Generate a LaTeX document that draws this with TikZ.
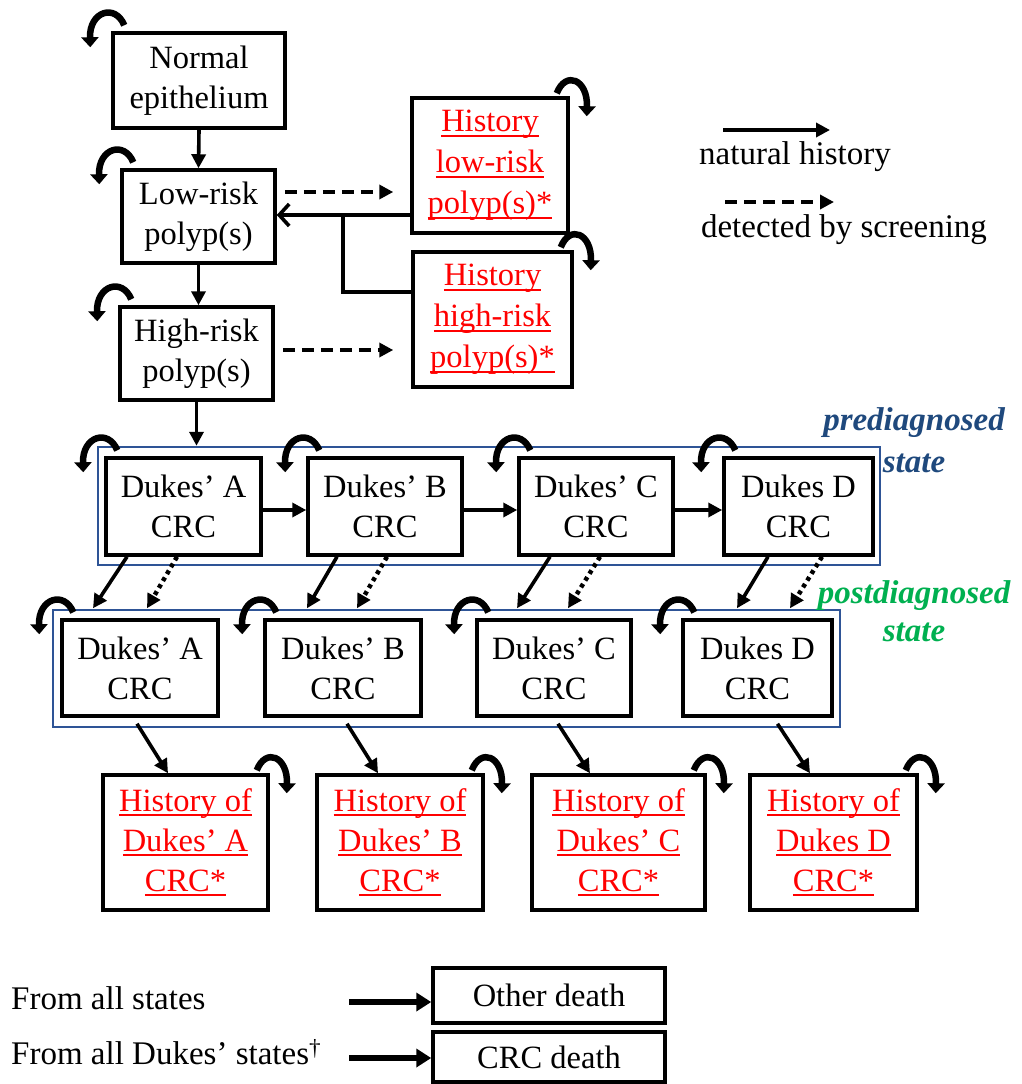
\documentclass[tikz,border=0pt]{standalone}
\usepackage{fontspec}
\setmainfont{Liberation Serif}
\usetikzlibrary{arrows.meta,calc}
\definecolor{frameblue}{RGB}{46,84,150}
\definecolor{preblue}{RGB}{31,73,125}
\definecolor{postgreen}{RGB}{0,176,80}
\newcommand\uln[1]{\setbox0\hbox{#1}\rlap{\rule[-5pt]{\wd0}{2pt}}\box0}
\newcommand\loopL[1]{\draw[loopar] ($(#1.north west)+(13,6)$) .. controls ($(#1.north west)+(4,28)$) and ($(#1.north west)+(-22,20)$) .. ($(#1.north west)+(-21,-16)$);}
\newcommand\loopR[1]{\draw[loopar] ($(#1.north east)+(-13,3)$) .. controls ($(#1.north east)+(-4,26)$) and ($(#1.north east)+(18,17)$) .. ($(#1.north east)+(17,-20)$);}
\tikzset{
 stbox/.style={draw, line width=3.5pt, inner sep=0pt, align=center, fill=white, font=\fontsize{32.5}{40}\selectfont},
 redbox/.style={stbox, text=red},
 frame/.style={draw=frameblue, line width=2.5pt, inner sep=0pt},
 arr/.style={line width=3.6pt, -{Triangle[length=14pt,width=14pt]}},
 dsh/.style={arr, dash pattern=on 12pt off 7pt},
 dotarr/.style={line width=4.5pt, dash pattern=on 4pt off 4pt, -{Triangle[length=14pt,width=14pt]}},
 loopar/.style={line width=6.5pt, -{Triangle[length=10pt,width=17pt]}},
 barb/.style={line width=3.6pt, -{Straight Barb[length=10pt,width=22pt]}},
 thickarr/.style={line width=5.5pt, -{Triangle[length=15pt,width=18pt]}},
 lbl/.style={font=\fontsize{33}{40}\selectfont, inner sep=0pt}
}
\begin{document}
\begin{tikzpicture}[x=1pt,y=1pt]
\useasboundingbox (0,0) rectangle (1021,-1084);
% frames
\node[frame, minimum width=782, minimum height=118] (pre) at (489,-506) {};
\node[frame, minimum width=787, minimum height=117] (post) at (446.5,-668.5) {};
% top boxes
\node[stbox, minimum width=172, minimum height=95] (normal) at (199,-80.5) {Normal\\epithelium};
\node[stbox, minimum width=153, minimum height=93] (low) at (198.5,-216.5) {Low-risk\\polyp(s)};
\node[stbox, minimum width=153, minimum height=93] (high) at (196.5,-353.5) {High-risk\\polyp(s)};
\node[redbox, minimum width=156, minimum height=135, font=\fontsize{32.5}{41}\selectfont] (histlow) at (490,-165.5) {\uln{History}\\\uln{low-risk}\\\uln{polyp(s)*}};
\node[redbox, minimum width=159, minimum height=135, font=\fontsize{32.5}{41}\selectfont] (histhigh) at (492.5,-319.5) {\uln{History}\\\uln{high-risk}\\\uln{polyp(s)*}};
% prediagnosed
\node[stbox, minimum width=155, minimum height=97] (preA) at (183.5,-506.5) {Dukes’ A\\CRC};
\node[stbox, minimum width=154, minimum height=97] (preB) at (385,-506.5) {Dukes’ B\\CRC};
\node[stbox, minimum width=154, minimum height=97] (preC) at (596,-506.5) {Dukes’ C\\CRC};
\node[stbox, minimum width=149, minimum height=97] (preD) at (798.5,-506.5) {Dukes D\\CRC};
% postdiagnosed
\node[stbox, minimum width=156, minimum height=96] (postA) at (140,-668) {Dukes’ A\\CRC};
\node[stbox, minimum width=156, minimum height=96] (postB) at (343,-668) {Dukes’ B\\CRC};
\node[stbox, minimum width=154, minimum height=96] (postC) at (554,-668) {Dukes’ C\\CRC};
\node[stbox, minimum width=149, minimum height=96] (postD) at (757.5,-668) {Dukes D\\CRC};
% history of Dukes
\node[redbox, minimum width=165, minimum height=135] (histA) at (185.5,-842.5) {\uln{History of}\\\uln{Dukes’ A}\\\uln{CRC*}};
\node[redbox, minimum width=166, minimum height=135] (histB) at (400,-842.5) {\uln{History of}\\\uln{Dukes’ B}\\\uln{CRC*}};
\node[redbox, minimum width=173, minimum height=135] (histC) at (618.5,-842.5) {\uln{History of}\\\uln{Dukes’ C}\\\uln{CRC*}};
\node[redbox, minimum width=167, minimum height=135] (histD) at (833.5,-842.5) {\uln{History of}\\\uln{Dukes D}\\\uln{CRC*}};
% death boxes
\node[stbox, minimum width=232, minimum height=55] (other) at (549,-995.5) {Other death};
\node[stbox, minimum width=232, minimum height=50] (crcd) at (549,-1057) {CRC death};
% natural history arrows
\draw[arr] (normal.south) -- (low.north);
\draw[arr] (low.south) -- (low.south |- high.north);
\draw[arr] (high.south) -- (high.south |- pre.north);
\draw[dsh] ($(low.east)+(8,24.5)$) -- ($(histlow.west)+(-17,-26.5)$);
\draw[dsh] ($(high.east)+(8,3.5)$) -- ($(histhigh.west)+(-18,-30.5)$);
\coordinate (j1) at ($(histlow.west)+(0,-49.5)$);
\draw[barb] (j1) -- (j1 -| low.east);
\coordinate (j2) at ($(j1)+(-67,0)$);
\draw[line width=3.6pt] (j2) |- ($(histhigh.west)+(0,27.5)$);
% pre horizontal
\draw[arr] ($(preA.east)+(-3,-3.5)$) -- ($(preB.west)+(0,-3.5)$);
\draw[arr] ($(preB.east)+(0,-3.5)$) -- ($(preC.west)+(0,-3.5)$);
\draw[arr] ($(preC.east)+(0,-3.5)$) -- ($(preD.west)+(0,-3.5)$);
% pre to post
\draw[arr] ($(preA.south)+(-56.5,0)$) -- ($(postA.north)+(-47,10)$);
\draw[dotarr] ($(preA.south)+(-6.5,0)$) -- ($(postA.north)+(7,10)$);
\draw[arr] ($(preB.south)+(-48,0)$) -- ($(postB.north)+(-36,10)$);
\draw[dotarr] ($(preB.south)+(2,0)$) -- ($(postB.north)+(14,10)$);
\draw[arr] ($(preC.south)+(-46,0)$) -- ($(postC.north)+(-37,10)$);
\draw[dotarr] ($(preC.south)+(4,0)$) -- ($(postC.north)+(14,10)$);
\draw[arr] ($(preD.south)+(-30.5,0)$) -- ($(postD.north)+(-20.5,10)$);
\draw[dotarr] ($(preD.south)+(23.5,0)$) -- ($(postD.north)+(32.5,10)$);
% post to history
\draw[arr] ($(postA.south)+(-3,-6)$) -- ($(histA.north)+(-17.5,0)$);
\draw[arr] ($(postB.south)+(4,-6)$) -- ($(histB.north)+(-22,0)$);
\draw[arr] ($(postC.south)+(4,-6)$) -- ($(histC.north)+(-28.5,0)$);
\draw[arr] ($(postD.south)+(20,-6)$) -- ($(histD.north)+(-23.5,0)$);
% self loops
\loopL{normal}
\loopL{low}
\loopL{high}
\loopR{histlow}
\loopR{histhigh}
\loopL{preA}
\loopL{preB}
\loopL{preC}
\loopL{preD}
\loopL{postA}
\loopL{postB}
\loopL{postC}
\loopL{postD}
\loopR{histA}
\loopR{histB}
\loopR{histC}
\loopR{histD}
% legend top right
\coordinate (ln1) at (723,-130);
\coordinate (ln2) at (830,-130);
\draw[arr] (ln1) -- (ln2);
\node[lbl] (nat) at (795,-157) {natural history};
\coordinate (ld1) at (725,-202);
\coordinate (ld2) at (834,-202);
\draw[dsh] (ld1) -- (ld2);
\node[lbl] (det) at (844,-230) {detected by screening};
% state labels
\node[lbl, align=center, text=preblue, font=\fontsize{33}{42}\selectfont\bfseries\itshape] (prelbl) at (914,-440) {prediagnosed\\state};
\node[lbl, align=center, text=postgreen, font=\fontsize{33}{38}\selectfont\bfseries\itshape] (postlbl) at (914,-611) {postdiagnosed\\state};
% bottom legend
\node[lbl, anchor=west] (fas) at (11,-998) {From all states};
\node[lbl, anchor=west] (fads) at (11,-1052) {From all Dukes’ states\textsuperscript{†}};
\coordinate (o1) at (349,-1002);
\draw[thickarr] (o1) -- (o1 -| other.west);
\coordinate (c1) at (349,-1058);
\draw[thickarr] (c1) -- (c1 -| crcd.west);
\end{tikzpicture}
\end{document}
